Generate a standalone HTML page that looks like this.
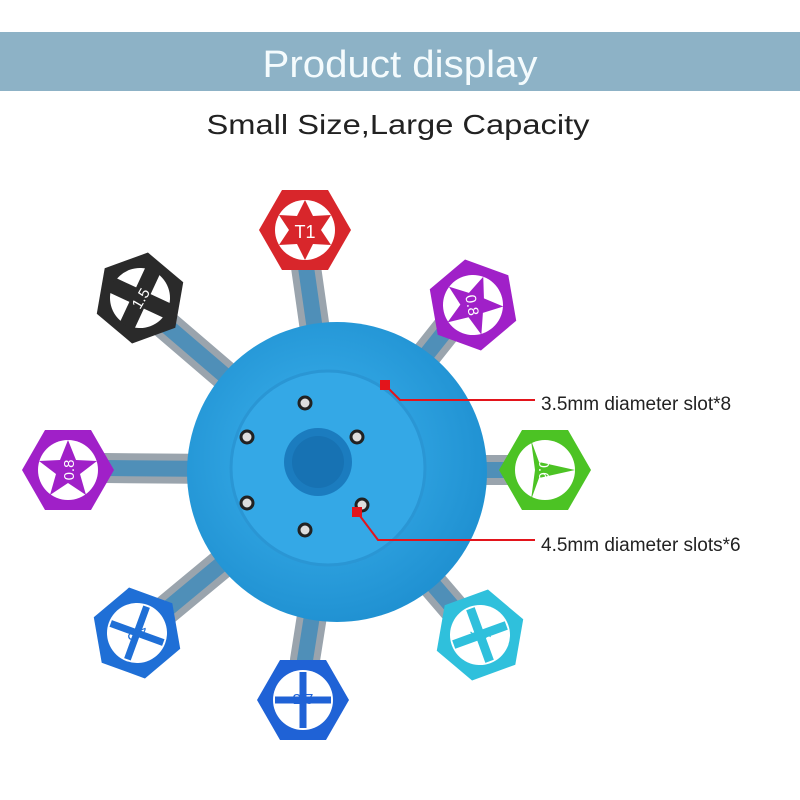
<!DOCTYPE html>
<html><head><meta charset="utf-8"><style>
html,body{margin:0;padding:0;background:#fff;width:800px;height:800px;overflow:hidden}
svg{display:block}
text{font-family:"Liberation Sans",sans-serif}
</style></head><body>
<svg width="800" height="800" viewBox="0 0 800 800">
<defs>
<radialGradient id="disk" cx="0.45" cy="0.45" r="0.6"><stop offset="0" stop-color="#3db3ee"/><stop offset="1" stop-color="#1e8fd0"/></radialGradient>
<g id="hex"><polygon points="-46,0 -23,-40 23,-40 46,0 23,40 -23,40"/></g>
</defs>
<rect x="0" y="32" width="800" height="59" fill="#8db2c6"/>
<text x="400" y="77" text-anchor="middle" font-size="38" fill="#f4fbfd" textLength="275" lengthAdjust="spacingAndGlyphs">Product display</text>
<text x="398" y="134" text-anchor="middle" font-size="28" fill="#222" textLength="383" lengthAdjust="spacingAndGlyphs">Small Size,Large Capacity</text>

<!-- shafts -->
<g stroke-linecap="round">
<g stroke="#9aa4ad" stroke-width="30">
<line x1="335" y1="470" x2="305" y2="260"/>
<line x1="335" y1="470" x2="160" y2="320"/>
<line x1="335" y1="470" x2="450" y2="325"/>
<line x1="335" y1="470" x2="105" y2="468"/>
<line x1="335" y1="470" x2="510" y2="470"/>
<line x1="335" y1="470" x2="160" y2="615"/>
<line x1="335" y1="470" x2="455" y2="610"/>
<line x1="335" y1="470" x2="305" y2="660"/>
</g>
<g stroke="#4f8fb8" stroke-width="16">
<line x1="335" y1="470" x2="305" y2="260"/>
<line x1="335" y1="470" x2="160" y2="320"/>
<line x1="335" y1="470" x2="450" y2="325"/>
<line x1="335" y1="470" x2="105" y2="468"/>
<line x1="335" y1="470" x2="510" y2="470"/>
<line x1="335" y1="470" x2="160" y2="615"/>
<line x1="335" y1="470" x2="455" y2="610"/>
<line x1="335" y1="470" x2="305" y2="660"/>
</g>
</g>

<!-- disk -->
<circle cx="337" cy="472" r="150" fill="url(#disk)"/>
<circle cx="328" cy="468" r="97" fill="#34a8e6" stroke="#2a96d4" stroke-width="3"/>
<circle cx="318" cy="462" r="34" fill="#1b7cbf"/>
<circle cx="318" cy="462" r="26" fill="#1772b3"/>
<g fill="#ddd" stroke="#222" stroke-width="3">
<circle cx="305" cy="403" r="6"/><circle cx="247" cy="437" r="6"/><circle cx="357" cy="437" r="6"/>
<circle cx="247" cy="503" r="6"/><circle cx="362" cy="505" r="6"/><circle cx="305" cy="530" r="6"/>
</g>

<!-- hex caps -->
<g>
<g transform="translate(305,230)"><use href="#hex" fill="#d8262b"/><circle r="30" fill="#fff"/><polygon points="0,-30 8,-14 26,-15 16,0 26,15 8,14 0,30 -8,14 -26,15 -16,0 -26,-15 -8,-14" fill="#d8262b"/><text y="8" text-anchor="middle" font-size="18" fill="#fff">T1</text></g>
<g transform="translate(140,298) rotate(-20)"><use href="#hex" fill="#2a2a2a"/><circle r="30" fill="#fff"/><path d="M-22,-22 L22,22 M22,-22 L-22,22" stroke="#2a2a2a" stroke-width="16"/><text y="6" text-anchor="middle" font-size="15" fill="#fff" transform="rotate(-40)">1.5</text></g>
<g transform="translate(473,305) rotate(20)"><use href="#hex" fill="#a020c8"/><circle r="30" fill="#fff"/><polygon points="0,-30 8,-10 29,-9 12,4 18,25 0,13 -18,25 -12,4 -29,-9 -8,-10" fill="#a020c8"/><text y="6" text-anchor="middle" font-size="15" fill="#fff" transform="rotate(60)">0.8</text></g>
<g transform="translate(68,470)"><use href="#hex" fill="#a020c8"/><circle r="30" fill="#fff"/><polygon points="0,-30 8,-10 29,-9 12,4 18,25 0,13 -18,25 -12,4 -29,-9 -8,-10" fill="#a020c8"/><text y="6" text-anchor="middle" font-size="15" fill="#fff" transform="rotate(-90)">0.8</text></g>
<g transform="translate(545,470)"><use href="#hex" fill="#4cc324"/><circle r="30" fill="#fff"/><polygon points="-14,-30 -6,-8 30,0 -6,8 -14,30 -10,0" fill="#4cc324"/><text y="6" text-anchor="middle" font-size="15" fill="#fff" transform="rotate(90)">0.6</text></g>
<g transform="translate(137,633) rotate(20)"><use href="#hex" fill="#1f6fd6"/><circle r="30" fill="#fff"/><path d="M0,-28 V28 M-28,0 H28" stroke="#1f6fd6" stroke-width="7"/><text y="6" text-anchor="middle" font-size="15" fill="#1f6fd6" transform="rotate(140) translate(0,-4)">2.5</text></g>
<g transform="translate(480,635) rotate(-20)"><use href="#hex" fill="#2fc0dc"/><circle r="30" fill="#fff"/><path d="M0,-28 V28 M-28,0 H28" stroke="#2fc0dc" stroke-width="9"/><text y="6" text-anchor="middle" font-size="15" fill="#2fc0dc" transform="rotate(-120)">1.5</text></g>
<g transform="translate(303,700)"><use href="#hex" fill="#1f62d6"/><circle r="30" fill="#fff"/><path d="M0,-28 V28 M-28,0 H28" stroke="#1f62d6" stroke-width="7"/><text y="6" text-anchor="middle" font-size="15" fill="#1f62d6" transform="rotate(180)">2.5</text></g>
</g>

<!-- callouts -->
<g fill="none" stroke="#e3141b" stroke-width="2">
<polyline points="385,385 400,400 535,400"/>
<polyline points="357,512 378,540 535,540"/>
</g>
<rect x="380" y="380" width="10" height="10" fill="#e3141b"/>
<rect x="352" y="507" width="10" height="10" fill="#e3141b"/>
<text x="541" y="410" font-size="19" fill="#222">3.5mm diameter slot*8</text>
<text x="541" y="551" font-size="19" fill="#222">4.5mm diameter slots*6</text>
</svg>
</body></html>
